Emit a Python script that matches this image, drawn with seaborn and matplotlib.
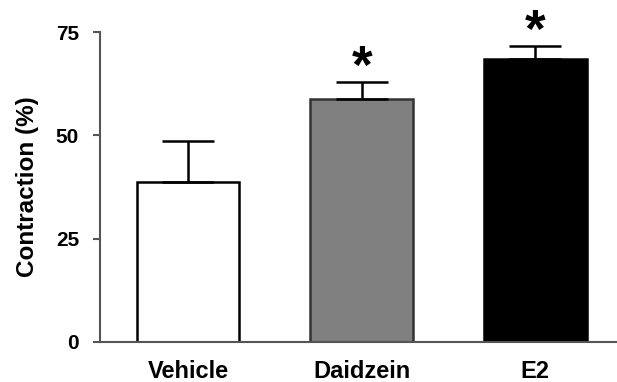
import numpy as np
import pandas as pd
import seaborn as sns
import matplotlib
matplotlib.use('Agg')
import matplotlib.pyplot as plt

# Data
groups = ['Vehicle', 'Daidzein', 'E2']
contraction = [38.7, 58.8, 68.5]
sem = [9.9, 4.1, 3.1]
significant = [False, True, True]
bar_colors = ['white', '#808080', 'black']
edge_colors = ['black', '#333333', 'black']

sns.set_style('ticks')
plt.rcParams['font.family'] = ['Liberation Sans', 'DejaVu Sans']
plt.rcParams['font.weight'] = 'bold'
plt.rcParams['text.color'] = 'black'
plt.rcParams['axes.labelcolor'] = 'black'
plt.rcParams['xtick.labelcolor'] = 'black'
plt.rcParams['ytick.labelcolor'] = 'black'

df = pd.DataFrame({'group': groups, 'contraction': contraction})

fig = plt.figure(figsize=(6.17, 3.82), dpi=100)
ax = fig.add_axes([0.162, 0.105, 0.838, 0.811])

sns.barplot(data=df, x='group', y='contraction', hue='group', palette=bar_colors,
            width=0.59, errorbar=None, legend=False, ax=ax)
for patch, ec in zip(ax.patches, edge_colors):
    patch.set_edgecolor(ec)
    patch.set_linewidth(1.8)

# upper error bars only
x = np.arange(len(groups))
ax.errorbar(x, contraction, yerr=[np.zeros(len(sem)), sem], fmt='none',
            ecolor='black', elinewidth=1.8, capsize=18.5, capthick=1.8, zorder=3)

# asterisks for significance
for xi, m, e, s in zip(x, contraction, sem, significant):
    if s:
        ax.text(xi, m + e - 0.3, '*', ha='center', va='baseline', fontsize=38,
                fontweight='bold', color='black', clip_on=False)

ax.set_ylim(0, 75)
ax.set_xlim(-0.507, 2.47)
ax.set_yticks([0, 25, 50, 75])
ax.set_xlabel('')
ax.set_ylabel('Contraction (%)', fontsize=17.5, fontweight='bold', labelpad=12)
ax.tick_params(axis='y', labelsize=15, length=5, width=1.5, color='#555555', pad=10)
ax.tick_params(axis='x', labelsize=17, length=0, pad=13)
for lab in ax.get_xticklabels() + ax.get_yticklabels():
    lab.set_fontweight('bold')

sns.despine(ax=ax)
for sp in ['left', 'bottom']:
    ax.spines[sp].set_color('#555555')
    ax.spines[sp].set_linewidth(1.5)

fig.savefig('out.png', dpi=100)
